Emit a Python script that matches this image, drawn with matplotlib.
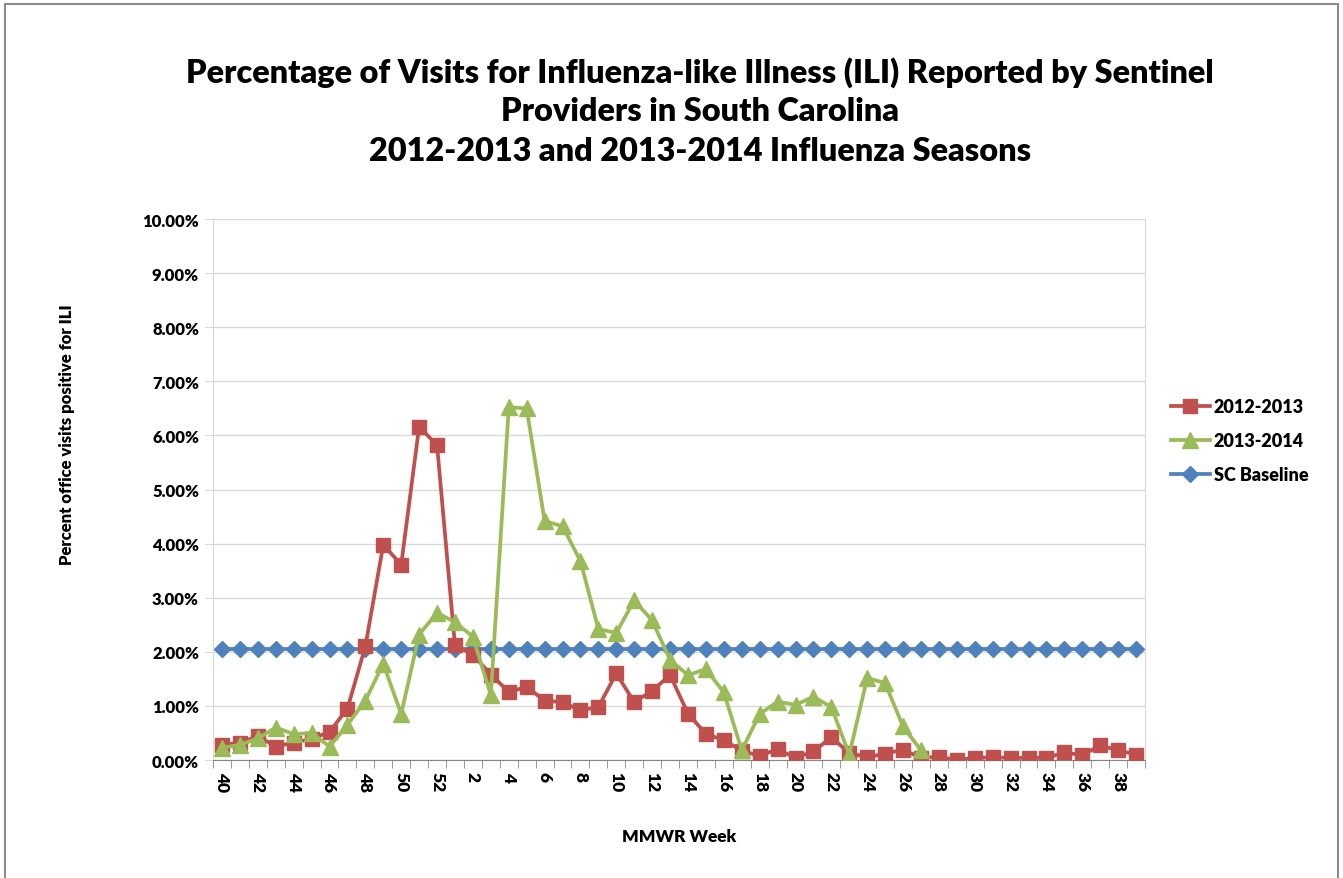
import matplotlib.pyplot as plt
from matplotlib.patches import Rectangle
from matplotlib.ticker import FuncFormatter, FixedLocator

plt.rcParams['font.family'] = ['Lato', 'DejaVu Sans']

# MMWR weeks 40-52 then 1-39
weeks = list(range(40, 53)) + list(range(1, 40))

season_2012 = [0.28, 0.32, 0.44, 0.25, 0.32, 0.39, 0.52, 0.95, 2.10, 3.98,
               3.61, 6.16, 5.82, 2.12, 1.95, 1.58, 1.26, 1.35, 1.10, 1.07,
               0.92, 0.98, 1.60, 1.07, 1.28, 1.57, 0.86, 0.48, 0.37, 0.17,
               0.08, 0.20, 0.04, 0.16, 0.42, 0.13, 0.05, 0.12, 0.19, 0.04,
               0.06, 0.00, 0.04, 0.05, 0.04, 0.04, 0.04, 0.14, 0.09, 0.27,
               0.18, 0.10]

season_2013 = [0.23, 0.28, 0.40, 0.60, 0.48, 0.50, 0.25, 0.65, 1.10, 1.78,
               0.85, 2.32, 2.72, 2.55, 2.28, 1.20, 6.52, 6.50, 4.42, 4.32,
               3.68, 2.42, 2.35, 2.95, 2.58, 1.85, 1.57, 1.68, 1.25, 0.18,
               0.85, 1.08, 1.02, 1.17, 0.98, 0.10, 1.52, 1.42, 0.62, 0.18]

sc_baseline = [2.05] * len(weeks)

red = '#C0504D'
green = '#9BBB59'
blue = '#4F81BD'

fig = plt.figure(figsize=(13.43, 8.79), dpi=100)
ax = fig.add_axes([0.1586, 0.1342, 0.6940, 0.6155])

x_all = list(range(len(weeks)))
ax.plot(x_all, sc_baseline, color=blue, lw=2.7, marker='D', ms=8.5,
        label='SC Baseline', zorder=2)
ax.plot(x_all, season_2012, color=red, lw=2.7, marker='s', ms=9.5,
        label='2012-2013', zorder=3)
ax.plot(x_all[:len(season_2013)], season_2013, color=green, lw=2.7,
        marker='^', ms=11, label='2013-2014', zorder=4)

ax.set_xlim(-0.5, len(weeks) - 0.5)
ax.set_ylim(0, 10)
ax.set_yticks(range(0, 11))
ax.yaxis.set_major_formatter(FuncFormatter(lambda v, p: f'{v:.2f}%'))
ax.grid(axis='y', color='#D9D9D9', lw=1)
ax.set_axisbelow(True)

ax.set_xticks(x_all[::2])
ax.set_xticklabels([str(w) for w in weeks[::2]], rotation=-90,
                   fontsize=12.5, fontweight='heavy')
ax.xaxis.set_minor_locator(FixedLocator([i - 0.5 for i in range(len(weeks) + 1)]))
ax.tick_params(axis='x', which='major', length=0, pad=8)
ax.tick_params(axis='x', which='minor', length=6, color='#868686')
ax.tick_params(axis='y', length=6, color='#D9D9D9', labelsize=12, pad=4)
for lab in ax.get_yticklabels():
    lab.set_fontweight('heavy')

for s in ['left', 'right', 'top']:
    ax.spines[s].set_color('#D9D9D9')
ax.spines['top'].set_visible(False)
ax.spines['bottom'].set_color('#868686')

ax.set_xlabel('MMWR Week', fontsize=12.5, fontweight='heavy', labelpad=26)
ax.set_ylabel('Percent office visits positive for ILI', fontsize=12,
              fontweight='heavy')
ax.yaxis.set_label_coords(-0.148, 0.603)

title_lines = ['Percentage of Visits for Influenza-like Illness (ILI) Reported by Sentinel',
               'Providers in South Carolina',
               '2012-2013 and 2013-2014 Influenza Seasons']
for i, line in enumerate(title_lines):
    fig.text(0.521, 0.917 - i * 0.0444, line, ha='center', va='center',
             fontsize=23.3, fontweight='heavy')

handles, labels = ax.get_legend_handles_labels()
order = [1, 2, 0]
ax.legend([handles[i] for i in order], [labels[i] for i in order],
          loc='center left', bbox_to_anchor=(1.01, 0.59), frameon=False,
          prop={'weight': 'heavy', 'size': 13}, handlelength=2.2,
          labelspacing=0.95, handletextpad=0.2)

fig.patches.append(Rectangle((5 / 1343, -0.01), 1333 / 1343, 1 - 5 / 879 + 0.01,
                             transform=fig.transFigure, fill=False,
                             edgecolor='#8C8C8C', lw=1.5))

fig.savefig('out.png', dpi=100)
